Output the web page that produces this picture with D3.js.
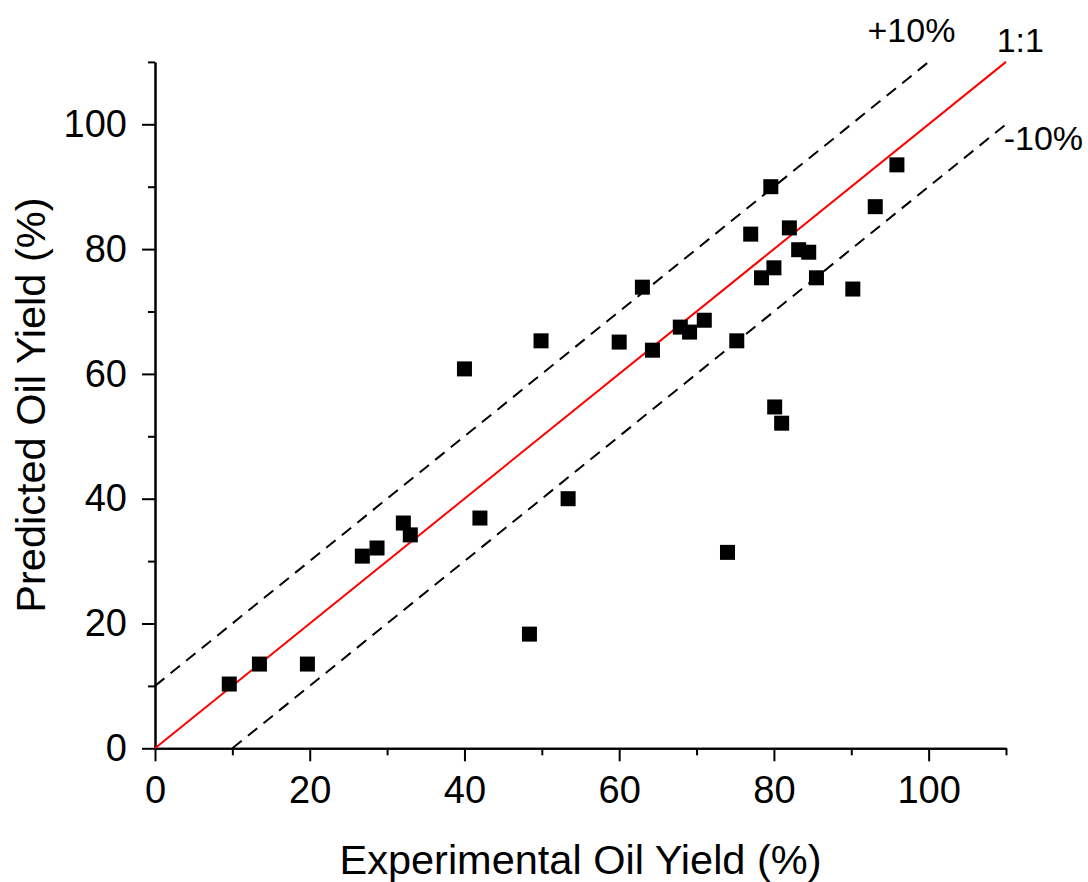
<!DOCTYPE html>
<html>
<head>
<style>
body { margin: 0; background: #fff; }
#chart { width: 1088px; height: 882px; }
.axis text { font-family: "Liberation Sans", Arial, sans-serif; font-size: 38px; fill: #000; }
.axis path, .axis line { stroke: #000; stroke-width: 2; }
.title { font-family: "Liberation Sans", Arial, sans-serif; font-size: 41.5px; fill: #000; }
.note { font-family: "Liberation Sans", Arial, sans-serif; font-size: 34px; fill: #000; }
</style>
</head>
<body>
<svg id="chart"></svg>
<script src="https://d3js.org/d3.v7.min.js"></script>
<script>
// experimental vs predicted oil yield (%)
const experimental = [9.6, 13.5, 19.7, 26.8, 28.7, 32.1, 33.0, 40.0, 42.0, 48.4, 49.9, 53.4,
    60.0, 63.0, 64.3, 67.9, 69.1, 71.0, 74.0, 75.2, 77.0, 78.4, 79.6, 80.0, 80.1, 81.0,
    82.0, 83.2, 84.5, 85.5, 90.2, 93.1, 95.9];
const predicted = [10.3, 13.5, 13.5, 30.8, 32.1, 36.1, 34.2, 60.8, 36.9, 18.3, 65.3, 40.0,
    65.1, 73.9, 63.8, 67.5, 66.7, 68.6, 31.4, 65.3, 82.4, 75.4, 90.0, 77.0, 54.7, 52.1,
    83.4, 79.9, 79.5, 75.4, 73.6, 86.8, 93.5];

const majorTicks = [0, 20, 40, 60, 80, 100];
const minorTicks = [10, 30, 50, 70, 90, 110];

// reference lines: [x1, y1, x2, y2]
const refLines = [
    {name: "1:1", pts: [0, 0, 110, 110], dashed: false},
    {name: "+10%", pts: [0, 10, 100, 110], dashed: true},
    {name: "-10%", pts: [10, 0, 110, 100], dashed: true}
];
const notes = [
    {label: "+10%", x: 92.1, y: 113.2},
    {label: "1:1", x: 108.8, y: 111.6},
    {label: "-10%", x: 109.7, y: 95.9}
];

const svg = d3.select("#chart");
const x = d3.scaleLinear().domain([0, 110]).range([155, 1006]);
const y = d3.scaleLinear().domain([0, 110]).range([748.3, 61.9]);

// minor ticks
svg.append("g").attr("class", "axis")
    .attr("transform", "translate(0,748.3)")
    .call(d3.axisBottom(x).tickValues(minorTicks).tickSize(7).tickSizeOuter(0).tickFormat(""));
svg.append("g").attr("class", "axis")
    .attr("transform", "translate(155,0)")
    .call(d3.axisLeft(y).tickValues(minorTicks).tickSize(7).tickSizeOuter(0).tickFormat(""));

// major ticks
svg.append("g").attr("class", "axis")
    .attr("transform", "translate(0,748.3)")
    .call(d3.axisBottom(x).tickValues(majorTicks).tickSize(13).tickSizeOuter(0).tickPadding(15));
svg.append("g").attr("class", "axis")
    .attr("transform", "translate(155,0)")
    .call(d3.axisLeft(y).tickValues(majorTicks).tickSize(13).tickSizeOuter(0).tickPadding(15));

svg.selectAll(".ref")
    .data(refLines)
    .enter()
    .append("line")
    .attr("class", "ref")
    .attr("x1", d => x(d.pts[0]))
    .attr("y1", d => y(d.pts[1]))
    .attr("x2", d => x(d.pts[2]))
    .attr("y2", d => y(d.pts[3]))
    .style("stroke", d => d.dashed ? "#000" : "#ff0000")
    .style("stroke-width", 2)
    .style("stroke-dasharray", d => d.dashed ? "12,8" : null);

const size = 15;
svg.selectAll(".pt")
    .data(experimental.map((v, i) => ({x: v, y: predicted[i]})))
    .enter()
    .append("rect")
    .attr("class", "pt")
    .attr("x", d => x(d.x) - size / 2)
    .attr("y", d => y(d.y) - size / 2)
    .attr("width", size)
    .attr("height", size)
    .style("fill", "#000");

svg.selectAll(".note")
    .data(notes)
    .enter()
    .append("text")
    .attr("class", "note")
    .attr("x", d => x(d.x))
    .attr("y", d => y(d.y))
    .text(d => d.label);

svg.append("text")
    .attr("class", "title")
    .attr("x", (x(0) + x(110)) / 2)
    .attr("y", 874)
    .attr("text-anchor", "middle")
    .text("Experimental Oil Yield (%)");

svg.append("text")
    .attr("class", "title")
    .attr("transform", `translate(45,${(y(0) + y(110)) / 2}) rotate(-90)`)
    .attr("text-anchor", "middle")
    .text("Predicted Oil Yield (%)");
</script>
</body>
</html>
